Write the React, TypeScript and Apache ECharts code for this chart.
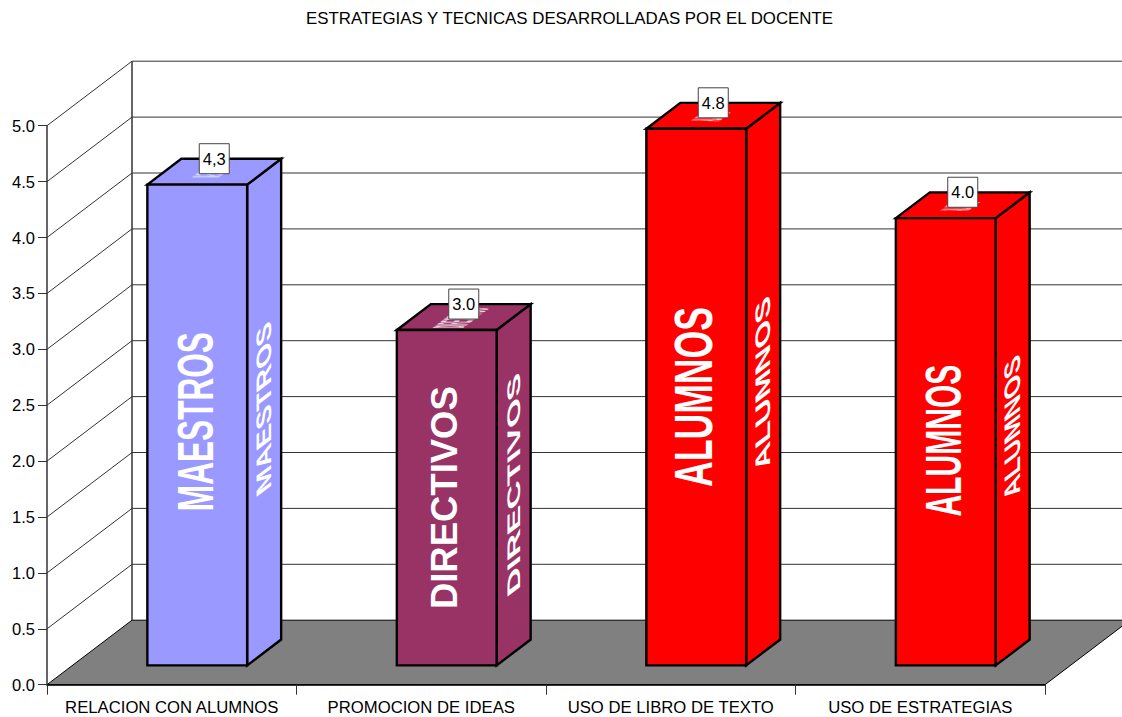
import React, { useEffect, useRef } from "react";
import * as echarts from "echarts";

const title = "ESTRATEGIAS Y TECNICAS DESARROLLADAS POR EL DOCENTE";
const categories = ["RELACION CON ALUMNOS", "PROMOCION DE IDEAS", "USO DE LIBRO DE TEXTO", "USO DE ESTRATEGIAS"];
const values = [4.3, 3.0, 4.8, 4.0];
const valueLabels = ["4,3", "3.0", "4.8", "4.0"];
const groups = ["MAESTROS", "DIRECTIVOS", "ALUMNOS", "ALUMNOS"];
const barColors = ["#9999FF", "#993366", "#FF0000", "#FF0000"];
const yTicks = [0, 0.5, 1, 1.5, 2, 2.5, 3, 3.5, 4, 4.5, 5];
// Value on the axis at which each group word is centred on its bar.
const wordCentres = [2.18, 1.5, 2.4, 2.01];

// Picture-like word sizes on the bar faces (px).
const frontLen = [179, 223, 180, 152];
const frontCap = [36, 26, 38, 36];
const sideLen = [169, 219, 171, 140];
const sideCap = [15, 13, 15, 16];
const topLen = [9, 20, 9, 9];
const topCap = [28, 32, 30, 30];

const FONT = '"Liberation Sans", Arial, sans-serif';
const WALL_DX = 85;
const WALL_DY = -64.5;
const BAR_FRONT = 0.3;
const BAR_DEPTH = 0.4;
const LINE = "#333333";

function measure(text: string, size: number) {
  const ctx = document.createElement("canvas").getContext("2d")!;
  ctx.font = `bold ${size}px "Liberation Sans", Arial, sans-serif`;
  return ctx.measureText(text).width;
}

function word(text: string, len: number, cap: number, x: number, y: number, opacity = 1) {
  const size = 40;
  return {
    type: "text",
    x,
    y,
    rotation: Math.PI / 2,
    scaleX: len / measure(text, size),
    scaleY: cap / (0.716 * size),
    style: {
      text,
      fontFamily: "Liberation Sans",
      fontWeight: "bold",
      fontSize: size,
      fill: "#FFFFFF",
      opacity,
      align: "center",
      verticalAlign: "middle",
    },
  };
}

function renderWall(params: any, api: any) {
  const cs = params.coordSys;
  const v = api.value(1);
  const y = api.coord([0, v])[1];
  const left = cs.x;
  const right = cs.x + cs.width;
  const children: any[] = [];
  if (v === 0) {
    children.push({
      type: "polygon",
      shape: {
        points: [
          [left, y],
          [left + WALL_DX, y + WALL_DY],
          [right + WALL_DX, y + WALL_DY],
          [right, y],
        ],
      },
      style: { fill: "#808080", stroke: "#000000", lineWidth: 1 },
    });
  } else {
    children.push({
      type: "polyline",
      shape: {
        points: [
          [left, y],
          [left + WALL_DX, y + WALL_DY],
          [right + WALL_DX, y + WALL_DY],
        ],
      },
      style: { fill: "none", stroke: LINE, lineWidth: 1 },
    });
  }
  if (v === 5) {
    children.push({
      type: "line",
      shape: {
        x1: left + WALL_DX,
        y1: y + WALL_DY,
        x2: left + WALL_DX,
        y2: cs.y + cs.height + WALL_DY,
      },
      style: { stroke: LINE, lineWidth: 1.5 },
    });
  }
  return { type: "group", children };
}

function renderBar(params: any, api: any) {
  const i = api.value(0);
  const v = api.value(1);
  const band = api.size([1, 0])[0];
  const base = api.coord([i, 0]);
  const top = api.coord([i, v]);
  const w = band * BAR_DEPTH;
  const offX = WALL_DX * BAR_FRONT;
  const offY = WALL_DY * BAR_FRONT;
  const dx = WALL_DX * BAR_DEPTH;
  const dy = WALL_DY * BAR_DEPTH;
  const l = base[0] - w / 2 + offX;
  const r = l + w;
  const b = base[1] + offY;
  const t = top[1] + offY;
  const color = barColors[i];
  const edge = { fill: color, stroke: "#000000", lineWidth: 2.4, lineJoin: "miter" };
  const wordY = api.coord([i, wordCentres[i]])[1] + offY;
  const text = groups[i];
  const cx = (l + r) / 2 + dx / 2;
  const cy = t + dy / 2;
  return {
    type: "group",
    children: [
      {
        type: "polygon",
        shape: { points: [[r, t], [r + dx, t + dy], [r + dx, b + dy], [r, b]] },
        style: edge,
      },
      {
        type: "polygon",
        shape: { points: [[l, t], [l + dx, t + dy], [r + dx, t + dy], [r, t]] },
        style: edge,
      },
      {
        type: "rect",
        shape: { x: l, y: t, width: w, height: b - t },
        style: edge,
      },
      word(text, frontLen[i], frontCap[i], (l + r) / 2 - 2, wordY),
      {
        type: "group",
        x: r + dx / 2,
        y: wordY + dy / 2,
        skewY: Math.atan(-dy / dx),
        children: [word(text, sideLen[i], sideCap[i], 0, 0)],
      },
      {
        type: "group",
        x: cx - 3,
        y: cy + 1,
        skewX: Math.atan(dx / dy),
        children: [word(text, topLen[i], topCap[i], 0, 0, 0.8)],
      },
      {
        type: "rect",
        shape: { x: cx - 15, y: cy - 28, width: 30, height: 30 },
        style: { fill: "#FFFFFF", stroke: "#444444", lineWidth: 1 },
      },
      {
        type: "text",
        x: cx,
        y: cy - 13,
        style: {
          text: valueLabels[i],
          fontFamily: "Liberation Sans",
          fontSize: 16.5,
          fill: "#000000",
          align: "center",
          verticalAlign: "middle",
        },
      },
    ],
  };
}

export default function App() {
  const ref = useRef<HTMLDivElement>(null);
  useEffect(() => {
    document.body.style.margin = "0";
    const chart = echarts.init(ref.current!, undefined, { renderer: "svg" });
    chart.setOption({
      animation: false,
      backgroundColor: "#FFFFFF",
      textStyle: { fontFamily: FONT },
      title: {
        text: title,
        left: 564.5,
        top: 5,
        textAlign: "center",
        textStyle: { fontFamily: FONT, fontSize: 16.85, fontWeight: "normal", color: "#000000", lineHeight: 17 },
      },
      grid: { left: 47, right: 77, top: 125.7, bottom: 32.3, containLabel: false, outerBoundsMode: "none" },
      xAxis: {
        type: "category",
        data: categories,
        z: 5,
        axisLine: { lineStyle: { color: "#000000", width: 1.5 } },
        axisTick: { show: true, alignWithLabel: false, length: 10, lineStyle: { color: LINE, width: 1 } },
        splitLine: { show: false },
        axisLabel: { color: "#000000", fontFamily: FONT, fontSize: 16.7, lineHeight: 14, margin: 15.5, interval: 0 },
      },
      yAxis: {
        type: "value",
        min: 0,
        max: 5,
        interval: 0.5,
        z: 5,
        axisLine: { show: true, lineStyle: { color: LINE, width: 1.5 } },
        axisTick: { show: true, length: 9, lineStyle: { color: LINE, width: 1 } },
        splitLine: { show: false },
        axisLabel: {
          color: "#000000",
          fontFamily: FONT,
          fontSize: 16.5,
          margin: 12,
          formatter: (v: number) => v.toFixed(1),
        },
      },
      series: [
        {
          type: "custom",
          name: "walls",
          z: 1,
          silent: true,
          renderItem: renderWall,
          encode: { x: 0, y: 1 },
          data: yTicks.map((v) => [0, v]),
        },
        {
          type: "custom",
          name: "bars",
          z: 6,
          silent: true,
          renderItem: renderBar,
          encode: { x: 0, y: 1 },
          data: values.map((v, i) => [i, v]),
        },
      ],
    });
    return () => chart.dispose();
  }, []);
  return <div ref={ref} style={{ width: 1122, height: 717 }} />;
}
